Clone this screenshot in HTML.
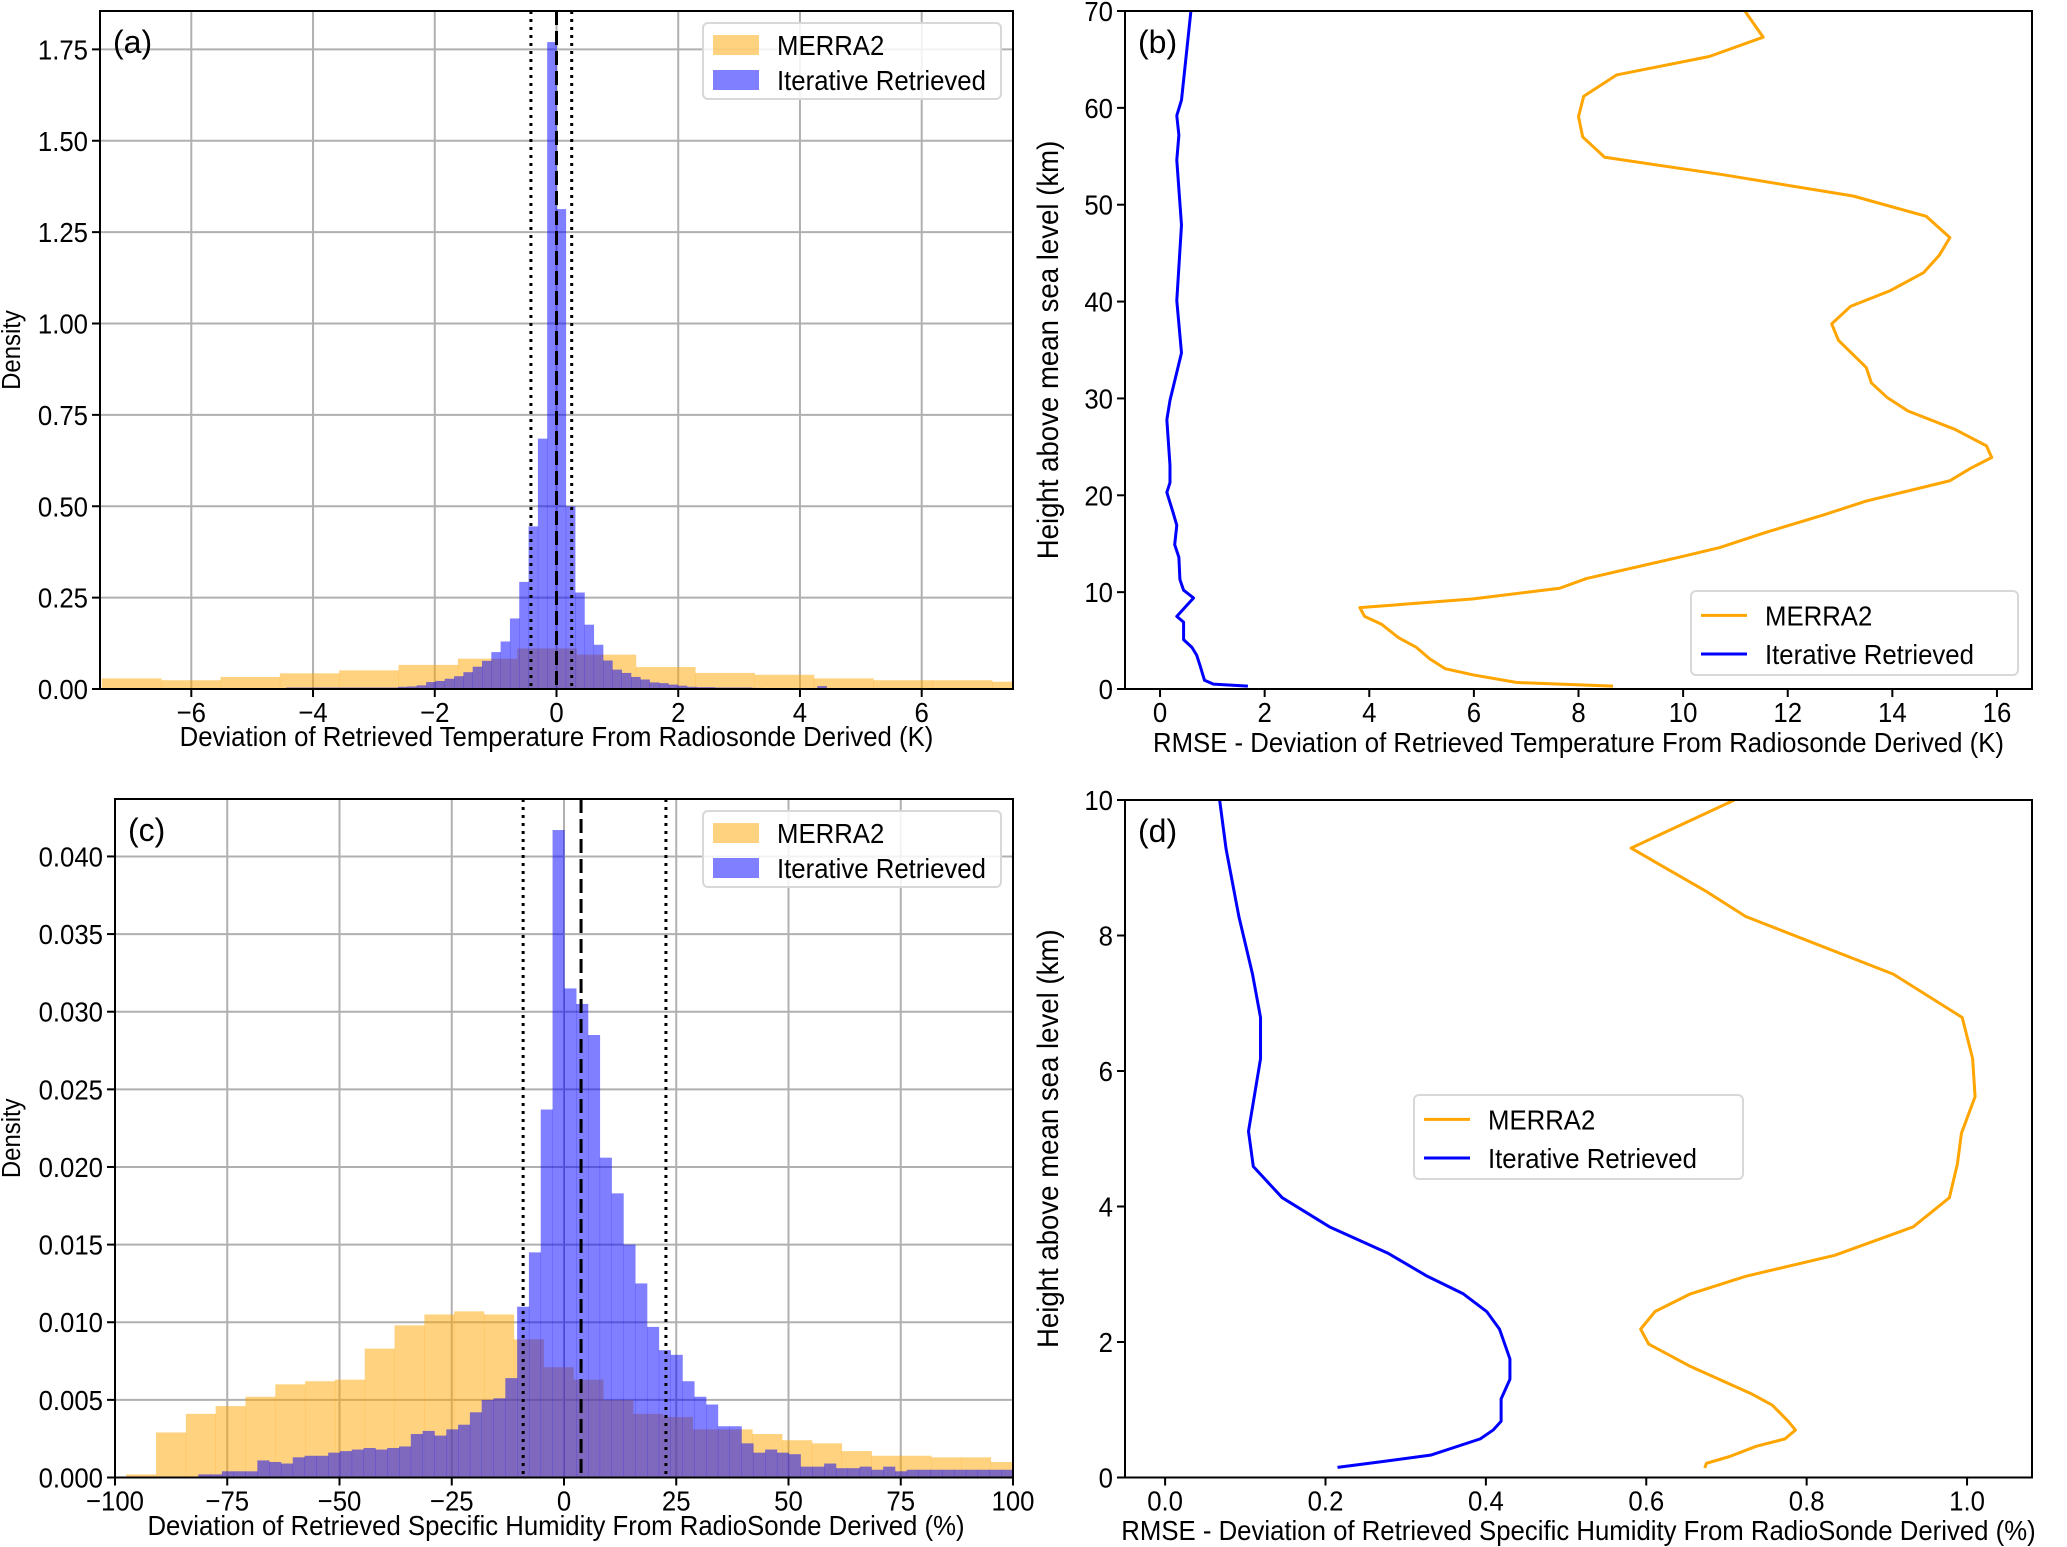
<!DOCTYPE html>
<html><head><meta charset="utf-8"><style>
html,body{margin:0;padding:0;background:#fff}
svg{display:block}
text{font-family:"Liberation Sans",sans-serif;fill:#000}
</style></head><body>
<svg id="fig" width="2067" height="1547" viewBox="0 0 2067 1547"></svg>
<script>
// ---------- data ----------
// Panel (a)
const aMerraStart = -7.47, aMerraWidth = 0.975;
const aMerraDensity = [0.029,0.024,0.033,0.043,0.051,0.066,0.083,0.111,0.094,0.060,0.044,0.039,0.029,0.024,0.024,0.020];
const aIterStart = -4.59, aIterWidth = 0.153;
const aIterDensity = [0.002,0.004,0.004,0.004,0.004,0.004,0.004,0.004,0.004,0.004,0.004,0.004,0.004,0.006,0.007,0.010,
  0.019,0.022,0.028,0.035,0.046,0.061,0.077,0.101,0.13,0.193,0.293,0.445,0.685,1.77,
  1.313,0.50,0.264,0.176,0.121,0.078,0.053,0.044,0.033,0.026,0.018,0.016,0.012,0.009,
  0.006,0.005,0.005,0.004,0.004,0.004,0.004,0.003,0.001,0.001,0.001,0.001,0.001,0.001,0.008,0.001];
const aVLines = {mean:0, lo:-0.42, hi:0.25};
const aXTicks = [-6,-4,-2,0,2,4,6];
const aYTicks = [0,0.25,0.5,0.75,1.0,1.25,1.5,1.75];
// Panel (c)
const cMerraStart = -97.5, cMerraWidth = 6.64;
const cMerraDensity = [0.0002,0.0029,0.0041,0.0046,0.0052,0.0060,0.0062,0.0063,0.0083,0.0098,0.0105,0.0107,0.0105,0.0089,
  0.0071,0.0063,0.0050,0.0041,0.0039,0.0031,0.0031,0.0028,0.0024,0.0022,0.0017,0.0014,0.0014,0.0013,0.0013,0.0010];
const cIterStart = -81.45, cIterWidth = 2.63;
const cIterDensity = [0.0002,0.0002,0.0004,0.0004,0.0004,0.0011,0.0010,0.0009,0.0013,0.0014,0.0014,0.0016,0.0017,0.0018,0.0019,
  0.0018,0.0019,0.0020,0.0028,0.0030,0.0027,0.0031,0.0034,0.0042,0.0050,0.0051,0.0064,
  0.0110,0.0145,0.0237,0.0417,0.0315,0.0305,0.0285,0.0206,0.0183,0.0150,0.0125,0.0097,0.0082,0.0079,0.0062,0.0052,0.0047,0.0033,0.0033,0.0022,
  0.0016,0.0018,0.0016,0.0015,0.0007,0.0007,0.0009,0.0006,0.0006,0.0007,0.0005,0.0007,0.0004,0.0005,0.0005,0.0005,0.0005,0.0005,0.0005,0.0005,0.0005,0.0005];
const cVLines = {mean:3.8, lo:-9.1, hi:22.7};
const cXTicks = [-100,-75,-50,-25,0,25,50,75,100];
const cYTicks = [0,0.005,0.010,0.015,0.020,0.025,0.030,0.035,0.040];
// Panel (b)
const bMerraRmse = [8.66,6.82,5.99,5.45,5.16,4.9,4.56,4.23,3.91,3.82,5.99,7.64,8.15,10.0,10.7,11.6,12.7,13.5,15.1,15.5,15.9,15.8,15.2,14.3,13.9,13.6,13.5,12.97,12.84,13.2,13.95,14.6,14.9,15.1,14.65,13.25,10.76,8.5,8.08,8.0,8.1,8.73,10.5,11.53,11.18];
const bMerraHeight = [0.3,0.67,1.45,2.1,3.1,4.3,5.3,6.7,7.5,8.4,9.3,10.4,11.4,13.7,14.6,16.2,18.0,19.4,21.5,22.8,23.9,25.1,26.8,28.7,30.1,31.6,33.2,36.0,37.7,39.5,41.1,43.0,44.8,46.6,48.8,50.9,53.1,54.9,57.0,59.1,61.2,63.4,65.3,67.3,70];
const bIterRmse = [1.68,1.02,0.85,0.76,0.70,0.61,0.45,0.45,0.32,0.64,0.45,0.38,0.36,0.28,0.32,0.25,0.13,0.19,0.19,0.13,0.19,0.41,0.32,0.41,0.32,0.36,0.32,0.41,0.59];
const bIterHeight = [0.3,0.5,0.9,2.5,3.5,4.3,5.1,6.9,7.5,9.4,10.2,11.3,13.6,14.9,16.9,18.2,20.3,21.3,23.1,27.8,29.8,34.7,40.1,47.9,54.6,57.2,59.2,60.8,70];
const bXTicks = [0,2,4,6,8,10,12,14,16];
const bYTicks = [0,10,20,30,40,50,60,70];
// Panel (d)
const dMerraRmse = [0.673,0.675,0.704,0.737,0.773,0.786,0.777,0.757,0.732,0.655,0.603,0.593,0.611,0.655,0.724,0.835,0.933,0.978,0.988,0.993,1.010,1.007,0.994,0.908,0.724,0.675,0.581,0.710];
const dMerraHeight = [0.14,0.21,0.31,0.46,0.57,0.70,0.83,1.07,1.23,1.64,1.97,2.19,2.45,2.71,2.97,3.28,3.70,4.13,4.63,5.08,5.62,6.18,6.79,7.43,8.28,8.65,9.29,10];
const dIterRmse = [0.215,0.274,0.331,0.393,0.409,0.419,0.419,0.430,0.430,0.417,0.401,0.372,0.327,0.278,0.205,0.146,0.110,0.104,0.119,0.119,0.109,0.092,0.076,0.068];
const dIterHeight = [0.15,0.24,0.33,0.57,0.70,0.83,1.16,1.45,1.75,2.19,2.45,2.71,2.97,3.31,3.70,4.13,4.59,5.11,6.18,6.79,7.43,8.28,9.28,10];
const dXTicks = [0.0,0.2,0.4,0.6,0.8,1.0];
const dYTicks = [0,2,4,6,8,10];

// ---------- helpers ----------
const NS='http://www.w3.org/2000/svg';
const svg=document.getElementById('fig');
const defs=document.createElementNS(NS,'defs');svg.appendChild(defs);
let clipN=0;
function el(tag,attrs,parent){const e=document.createElementNS(NS,tag);for(const k in attrs)e.setAttribute(k,attrs[k]);(parent||svg).appendChild(e);return e;}
function txt(str,x,y,size,anchor,parent,rot){
  const t=el('text',{x:0,y:0,'font-size':size,'text-anchor':anchor||'middle'},parent);
  t.setAttribute('transform',`translate(${x},${y})`+(rot?` rotate(${rot})`:'')+' scale(0.92,1)');
  t.textContent=str;return t;}
function scale(d0,d1,r0,r1){return v=>r0+(v-d0)/(d1-d0)*(r1-r0);}
function fmt(v,dec){return (v<0?'\u2212':'')+Math.abs(v).toFixed(dec);}

function axes(cfg){
  const g=el('g',{});
  
  
  const X=scale(cfg.xd[0],cfg.xd[1],cfg.L,cfg.R), Y=scale(cfg.yd[0],cfg.yd[1],cfg.B,cfg.T);
  el('rect',{x:cfg.L,y:cfg.T,width:cfg.R-cfg.L,height:cfg.B-cfg.T,fill:'#fff'},g);
  const id='clip'+(clipN++);
  const cp=el('clipPath',{id:id},defs);
  el('rect',{x:cfg.L,y:cfg.T,width:cfg.R-cfg.L,height:cfg.B-cfg.T},cp);
  if(cfg.grid){
    const gg=el('g',{stroke:'#b0b0b0','stroke-width':2},g);
    
    
    cfg.xt.forEach(v=>el('line',{x1:X(v),x2:X(v),y1:cfg.T,y2:cfg.B},gg));
    cfg.yt.forEach(v=>el('line',{x1:cfg.L,x2:cfg.R,y1:Y(v),y2:Y(v)},gg));
  }
  const plot=el('g',{'clip-path':`url(#${id})`},g);
  
  
  return {g,plot,X,Y};
}
function frame(cfg,ax){
  const g=ax.g,X=ax.X,Y=ax.Y;
  el('rect',{x:cfg.L,y:cfg.T,width:cfg.R-cfg.L,height:cfg.B-cfg.T,fill:'none',stroke:'#000','stroke-width':2},g);
  const xg=el('g',{},g);
  
  
  cfg.xt.forEach(v=>{el('line',{x1:X(v),x2:X(v),y1:cfg.B,y2:cfg.B+8,stroke:'#000','stroke-width':2},xg);
    const t=txt(fmt(v,cfg.xdec),X(v),cfg.B+33,28,'middle',xg);
    
    });
  const yg=el('g',{},g);
  
  
  cfg.yt.forEach(v=>{el('line',{x1:cfg.L-8,x2:cfg.L,y1:Y(v),y2:Y(v),stroke:'#000','stroke-width':2},yg);
    const t=txt(fmt(v,cfg.ydec),cfg.L-12,Y(v)+10,28,'end',yg);
    
    });
  const xl=txt(cfg.xlabel,(cfg.L+cfg.R)/2+cfg.xlOff,cfg.xlY,28,'middle',g);
  
  
  const yl=txt(cfg.ylabel,cfg.ylX,(cfg.T+cfg.B)/2,cfg.ylSize,'middle',g,-90);
  
  
  const pl=txt(cfg.panel,0,0,32,'start',g);
  pl.setAttribute('transform',`translate(${cfg.L+13},${cfg.T+42})`);
  
  
}
function hist(ax,start,width,vals,color,name){
  const hg=el('g',{fill:color,'fill-opacity':0.5},ax.plot);
  
  
  vals.forEach((v,i)=>{const x0=ax.X(start+i*width),x1=ax.X(start+(i+1)*width);
    const r=el('rect',{x:x0,y:ax.Y(v),width:x1-x0+0.3,height:ax.Y(0)-ax.Y(v)},hg);
    
    });
  return hg;
}
function vlines(ax,cfg,vl){
  const mk=(v,dash,n)=>{const l=el('line',{x1:ax.X(v),x2:ax.X(v),y1:cfg.T,y2:cfg.B,stroke:'#000','stroke-width':3,'stroke-dasharray':dash},ax.plot);
    
    };
  mk(vl.lo,'3,5','lower-bound-line');mk(vl.hi,'3,5','upper-bound-line');mk(vl.mean,'14,6','mean-line');
}
function line(ax,xs,ys,color,name){
  const p=el('polyline',{points:xs.map((v,i)=>ax.X(v)+','+ax.Y(ys[i])).join(' '),fill:'none',stroke:color,'stroke-width':3,'stroke-linejoin':'round'},ax.plot);
  
  
}
function legend(ax,x,y,w,h,patch,name){
  const g=el('g',{},ax.g);
  
  
  el('rect',{x:x,y:y,width:w,height:h,rx:5,fill:'#fff','fill-opacity':0.85,stroke:'#d8d8d8','stroke-width':2},g);
  const items=[['MERRA2','orange'],['Iterative Retrieved','blue']];
  items.forEach((it,i)=>{const cy=y+h*(0.29+0.46*i);
    const e=el('g',{},g);
    
    
    if(patch) el('rect',{x:x+10,y:cy-10,width:46,height:20,fill:it[1],'fill-opacity':0.5},e);
    else el('line',{x1:x+10,x2:x+56,y1:cy,y2:cy,stroke:it[1],'stroke-width':3},e);
    txt(it[0],x+74,cy+10,28,'start',e);});
}

// ---------- panel a ----------
const cfgA={name:'panel-a-temperature-histogram',L:100,R:1013,T:11,B:689,xd:[-7.5,7.5],yd:[0,1.855],xt:aXTicks,yt:aYTicks,xdec:0,ydec:2,grid:true,
  xlabel:'Deviation of Retrieved Temperature From Radiosonde Derived (K)',xlOff:0,xlY:746,ylabel:'Density',ylX:20,ylSize:26,panel:'(a)'};
const axA=axes(cfgA);
hist(axA,aMerraStart,aMerraWidth,aMerraDensity,'orange','merra2-hist');
hist(axA,aIterStart,aIterWidth,aIterDensity,'blue','iterative-hist');
vlines(axA,cfgA,aVLines);
frame(cfgA,axA);
legend(axA,703,23,298,76,true,'legend-a');

// ---------- panel c ----------
const cfgC={name:'panel-c-humidity-histogram',L:115,R:1013,T:799,B:1477.5,xd:[-100,100],yd:[0,0.0437],xt:cXTicks,yt:cYTicks,xdec:0,ydec:3,grid:true,
  xlabel:'Deviation of Retrieved Specific Humidity From RadioSonde Derived (%)',xlOff:-8,xlY:1535,ylabel:'Density',ylX:20,ylSize:26,panel:'(c)'};
const axC=axes(cfgC);
hist(axC,cMerraStart,cMerraWidth,cMerraDensity,'orange','merra2-hist');
hist(axC,cIterStart,cIterWidth,cIterDensity,'blue','iterative-hist');
vlines(axC,cfgC,cVLines);
frame(cfgC,axC);
legend(axC,703,811,298,76,true,'legend-c');

// ---------- panel b ----------
const cfgB={name:'panel-b-temperature-rmse',L:1125,R:2032,T:11,B:689,xd:[-0.67,16.67],yd:[0,70],xt:bXTicks,yt:bYTicks,xdec:0,ydec:0,grid:false,
  xlabel:'RMSE - Deviation of Retrieved Temperature From Radiosonde Derived (K)',xlOff:0,xlY:752,ylabel:'Height above mean sea level (km)',ylX:1058,ylSize:30,panel:'(b)'};
const axB=axes(cfgB);
line(axB,bMerraRmse,bMerraHeight,'#FFA500','merra2-line');
line(axB,bIterRmse,bIterHeight,'#0000FF','iterative-line');
frame(cfgB,axB);
legend(axB,1691,591,327,84,false,'legend-b');

// ---------- panel d ----------
const cfgD={name:'panel-d-humidity-rmse',L:1125,R:2032,T:800,B:1477.5,xd:[-0.05,1.081],yd:[0,10],xt:dXTicks,yt:dYTicks,xdec:1,ydec:0,grid:false,
  xlabel:'RMSE - Deviation of Retrieved Specific Humidity From RadioSonde Derived (%)',xlOff:0,xlY:1540,ylabel:'Height above mean sea level (km)',ylX:1058,ylSize:30,panel:'(d)'};
const axD=axes(cfgD);
line(axD,dMerraRmse,dMerraHeight,'#FFA500','merra2-line');
line(axD,dIterRmse,dIterHeight,'#0000FF','iterative-line');
frame(cfgD,axD);
legend(axD,1414,1095,329,84,false,'legend-d');
</script>
</body></html>
